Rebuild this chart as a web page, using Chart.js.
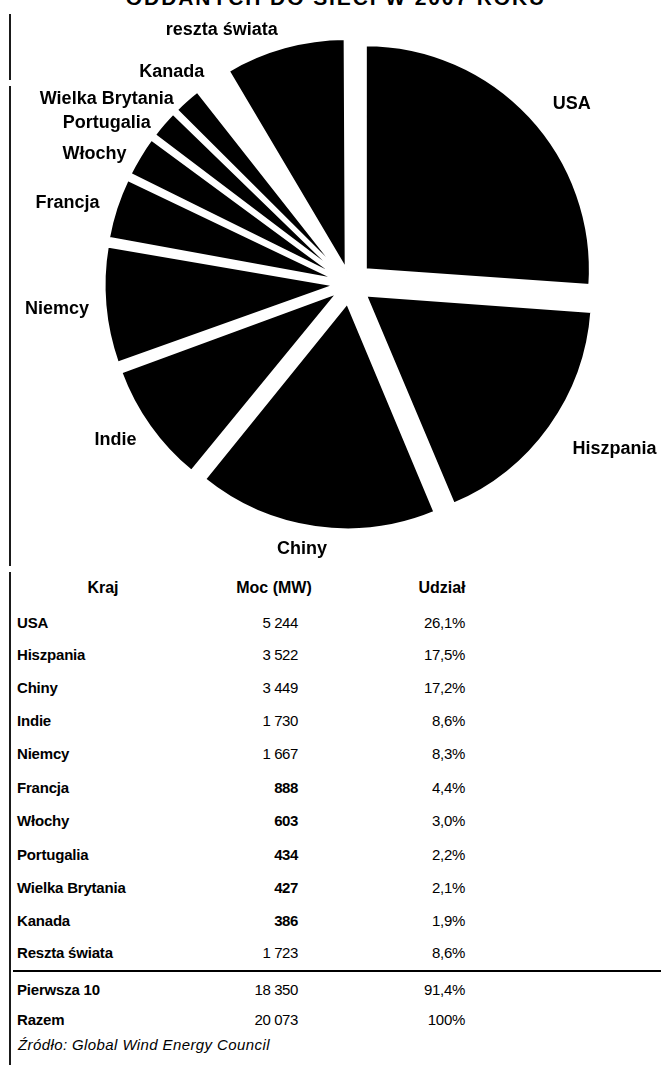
<!DOCTYPE html>
<html>
<head>
<meta charset="utf-8">
<script src="https://cdn.jsdelivr.net/npm/chart.js@4/dist/chart.umd.min.js"></script>
<style>
  html, body { margin:0; padding:0; background:#fff; }
  body { width:661px; height:1065px; overflow:hidden; position:relative;
         font-family:"Liberation Sans", Arial, Helvetica, sans-serif; color:#000; }
  #title { position:absolute; left:0; width:672px; top:-13px; text-align:center;
           font-weight:bold; font-size:21px; line-height:21px; letter-spacing:1.9px; white-space:nowrap; }
  #pieWrap { position:absolute; left:0; top:0; width:661px; height:560px; }
  .vline { position:absolute; left:9px; width:1.6px; background:#1a1a1a; }
  .cell { position:absolute; white-space:nowrap; line-height:18px; height:18px; }
  .name { left:17px; font-weight:bold; font-size:15px; letter-spacing:-0.2px; }
  .mw { right:363px; font-size:15px; text-align:right; letter-spacing:-0.4px; }
  .pct { right:196px; font-size:15px; text-align:right; letter-spacing:-0.3px; }
  .hdr { font-weight:bold; font-size:16px; text-align:center; width:120px; }
  #sep { position:absolute; left:13px; width:648px; top:970px; height:2px; background:#000; }
  #src { position:absolute; left:18px; top:1036px; font-size:15px; font-style:italic; line-height:18px;
         letter-spacing:0.4px; white-space:nowrap; }
</style>
</head>
<body>
<div id="title">ODDANYCH DO SIECI W 2007 ROKU</div>
<div class="vline" style="top:14px;height:66px"></div>
<div class="vline" style="top:86px;height:480px"></div>
<div class="vline" style="top:572px;height:493px"></div>
<div id="pieWrap"><canvas id="pie" width="661" height="560"></canvas></div>
<div id="table"></div>
<div id="sep"></div>
<div id="src">Źródło: Global Wind Energy Council</div>
<script>
// ---- data ----
const countries = ['USA','Hiszpania','Chiny','Indie','Niemcy','Francja','Włochy','Portugalia','Wielka Brytania','Kanada','Reszta świata'];
const pieLabels = ['USA','Hiszpania','Chiny','Indie','Niemcy','Francja','Włochy','Portugalia','Wielka Brytania','Kanada','reszta świata'];
const capacityMW = [5244, 3522, 3449, 1730, 1667, 888, 603, 434, 427, 386, 1723];
const sharePct = [26.1, 17.5, 17.2, 8.6, 8.3, 4.4, 3.0, 2.2, 2.1, 1.9, 8.6];
const summaryLabels = ['Pierwsza 10', 'Razem'];
const summaryMW = [18350, 20073];
const summaryPct = [91.4, 100];
const headers = ['Kraj', 'Moc (MW)', 'Udział'];

// ---- styles ----
const sliceColors = ['#000','#000','#000','#000','#000','#000','#000','#000','#000','#fff','#000'];
const labelAngleShift = [3.8, -3.9, 2.2, 2.0, 0.2, -1.8, -4.2, -7.0, -11.0, -5.5, -11.3];
const labelDistance = [286, 311, 268, 281, 294, 294, 287, 292, 306, 278, 285];
const boldMW = [false,false,false,false,false,true,true,true,true,true,false];
const rowY = [623, 655, 688, 721, 754, 788, 821, 855, 888, 921, 953];
const summaryY = [990, 1020];
const EXPLODE = 21;

const fmtMW = v => String(v).replace(/\B(?=(\d{3})+(?!\d))/g, ' ');
const fmtPct = v => (v === 100 ? '100' : v.toFixed(1).replace('.', ',')) + '%';

// ---- table ----
const tbl = document.getElementById('table');
function addCell(cls, text, y, extra) {
  const d = document.createElement('div');
  d.className = 'cell ' + cls;
  d.textContent = text;
  d.style.top = (y - 9) + 'px';
  if (extra) Object.assign(d.style, extra);
  tbl.appendChild(d);
}
addCell('hdr', headers[0], 588, {left: (103 - 60) + 'px'});
addCell('hdr', headers[1], 588, {left: (274 - 60) + 'px'});
addCell('hdr', headers[2], 588, {left: (442 - 60) + 'px'});
countries.forEach((c, i) => {
  addCell('name', c, rowY[i]);
  addCell('mw', fmtMW(capacityMW[i]), rowY[i], boldMW[i] ? {fontWeight:'bold'} : null);
  addCell('pct', fmtPct(sharePct[i]), rowY[i]);
});
summaryLabels.forEach((c, i) => {
  addCell('name', c, summaryY[i]);
  addCell('mw', fmtMW(summaryMW[i]), summaryY[i]);
  addCell('pct', fmtPct(summaryPct[i]), summaryY[i]);
});

// ---- pie ----
const total = capacityMW.reduce((a, b) => a + b, 0);
function explodeOffset(ctx) {
  const circ = capacityMW[ctx.dataIndex] / total * Math.PI * 2;
  const fix = 1 - Math.sin(Math.min(Math.PI, circ));
  return 4 * EXPLODE / (1 + fix);
}

const labelPlugin = {
  id: 'sliceLabels',
  afterDatasetsDraw(chart) {
    const ctx = chart.ctx;
    const meta = chart.getDatasetMeta(0);
    ctx.save();
    ctx.font = 'bold 18px "Liberation Sans", Arial, sans-serif';
    ctx.fillStyle = '#000';
    ctx.textAlign = 'center';
    ctx.textBaseline = 'middle';
    meta.data.forEach((arc, i) => {
      const p = arc.getProps(['x', 'y', 'startAngle', 'endAngle'], true);
      const a = (p.startAngle + p.endAngle) / 2 + labelAngleShift[i] * Math.PI / 180;
      const r = labelDistance[i];
      ctx.fillText(pieLabels[i], p.x + Math.cos(a) * r, p.y + Math.sin(a) * r + 1);
    });
    ctx.restore();
  }
};

new Chart(document.getElementById('pie'), {
  type: 'pie',
  data: {
    labels: countries,
    datasets: [{
      data: capacityMW,
      backgroundColor: sliceColors,
      borderColor: '#fff',
      borderWidth: 3,
      hoverBorderWidth: 3,
      offset: explodeOffset,
      hoverOffset: explodeOffset
    }]
  },
  options: {
    responsive: false,
    animation: false,
    events: [],
    radius: 225,
    layout: { padding: { left: 39, right: 0, top: 8, bottom: 0 } },
    plugins: { legend: { display: false }, tooltip: { enabled: false }, title: { display: false } }
  },
  plugins: [labelPlugin]
});
</script>
</body>
</html>
